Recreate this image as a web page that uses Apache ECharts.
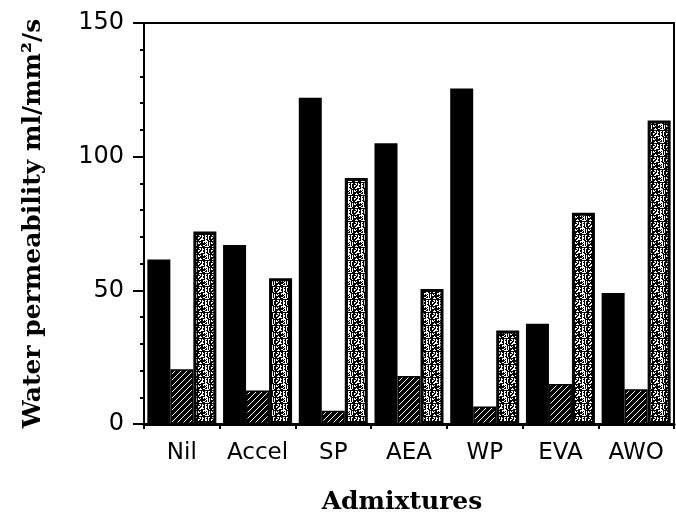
<!DOCTYPE html>
<html>
<head>
<meta charset="utf-8">
<script src="https://cdn.jsdelivr.net/npm/echarts@6/dist/echarts.min.js"></script>
<style>html,body{margin:0;padding:0;background:#fff}#c{width:676px;height:520px}</style>
</head>
<body>
<div id="c"></div>
<script>
const categories = ['Nil', 'Accel', 'SP', 'AEA', 'WP', 'EVA', 'AWO'];
const solidValues = [61.5, 67, 122, 105, 125.5, 37.5, 49];
const hatchedValues = [20.5, 12.5, 5, 18, 6.5, 15, 13];
const stippledValues = [72, 54.5, 92, 50.5, 35, 79, 113.5];
const yTicks = [0, 50, 100, 150];

function hatchPattern() {
  const c = document.createElement('canvas');
  c.width = 6; c.height = 6;
  const g = c.getContext('2d');
  g.fillStyle = '#000'; g.fillRect(0, 0, 6, 6);
  g.strokeStyle = '#fff'; g.lineWidth = 1;
  g.beginPath();
  g.moveTo(-1, 7); g.lineTo(7, -1);
  g.moveTo(-4, 4); g.lineTo(4, -4);
  g.moveTo(2, 10); g.lineTo(10, 2);
  g.stroke();
  return c;
}
function stipplePattern() {
  const n = 13;
  const c = document.createElement('canvas');
  c.width = n; c.height = n;
  const g = c.getContext('2d');
  g.fillStyle = '#fff'; g.fillRect(0, 0, n, n);
  g.fillStyle = '#000';
  for (let y = 0; y < n; y++) {
    for (let x = 0; x < n; x++) {
      const h = (x * 37 + y * 91 + x * y * 13 + (x ^ y) * 7) % 11;
      if (h < 6) g.fillRect(x, y, 1, 1);
    }
  }
  return c;
}

const chart = echarts.init(document.getElementById('c'));
chart.setOption({
  animation: false,
  backgroundColor: '#fff',
  grid: { left: 144, right: 2, top: 23, bottom: 87, show: true, borderColor: '#000', borderWidth: 2, backgroundColor: 'transparent' },
  xAxis: {
    type: 'category',
    data: categories,
    name: 'Admixtures',
    nameLocation: 'middle',
    nameGap: 66,
    nameTextStyle: { fontFamily: 'DejaVu Serif', fontWeight: 'bold', fontSize: 25, color: '#000', padding: [0, 14, 0, 0] },
    axisLine: { lineStyle: { color: '#000', width: 3 } },
    axisTick: { show: true, length: 5, lineStyle: { color: '#000', width: 2 } },
    axisLabel: { interval: 0, fontFamily: 'DejaVu Sans', fontSize: 23, color: '#000', margin: 18 },
    splitLine: { show: false }
  },
  yAxis: {
    type: 'value',
    min: yTicks[0],
    max: yTicks[yTicks.length - 1],
    interval: 50,
    name: 'Water permeability ml/mm²/s',
    nameLocation: 'middle',
    nameRotate: 90,
    nameGap: 98,
    nameTextStyle: { fontFamily: 'DejaVu Serif', fontWeight: 'bold', fontSize: 25, color: '#000' },
    axisLine: { show: true, lineStyle: { color: '#000', width: 2 } },
    axisTick: { show: true, length: 11, lineStyle: { color: '#000', width: 2 } },
    minorTick: { show: true, splitNumber: 5, length: 4, lineStyle: { color: '#000', width: 2 } },
    axisLabel: { fontFamily: 'DejaVu Sans', fontSize: 24, color: '#000', margin: 20 },
    splitLine: { show: false }
  },
  series: [
    { type: 'bar', data: solidValues, barWidth: 23, barGap: '0%', itemStyle: { color: '#000' } },
    { type: 'bar', data: hatchedValues, barWidth: 23, barGap: '0%', itemStyle: { color: { image: hatchPattern(), repeat: 'repeat' }, borderColor: '#000', borderWidth: 1.5 } },
    { type: 'bar', data: stippledValues, barWidth: 23, barGap: '0%', itemStyle: { color: { image: stipplePattern(), repeat: 'repeat' }, borderColor: '#000', borderWidth: 3 } }
  ]
});
</script>
</body>
</html>
